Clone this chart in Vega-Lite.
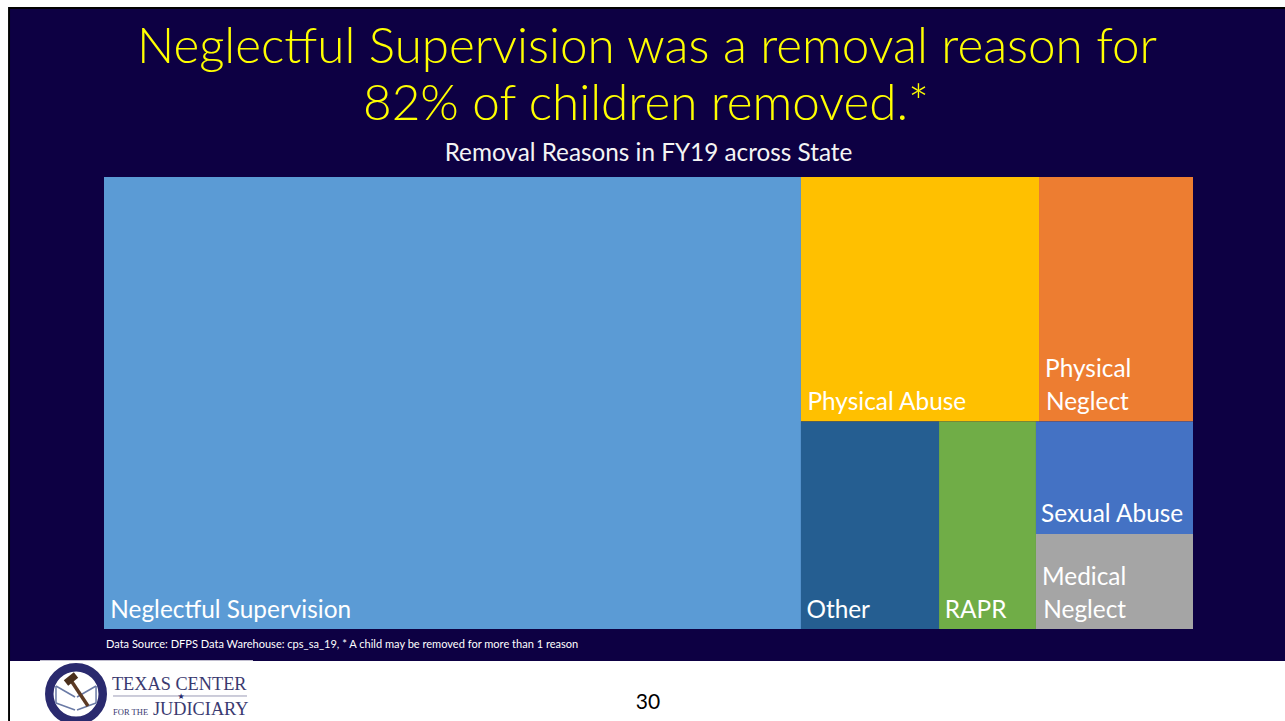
{
"$schema":"https://vega.github.io/schema/vega-lite/v6.json",
"width":1089,"height":452,
"autosize":{"type":"none"},
"padding":{"left":104,"top":177,"right":92,"bottom":92},
"background":"#fdfdfd",
"view":{"stroke":null},
"layer":[
{"data":{"values":[{"x":-8.81,"x2":108.45,"y":-37.6,"y2":107.3},{"x":-8.81,"x2":-8.63,"y":107.3,"y2":120.35}]},
"mark":{"type":"rect","color":"#000000"},
"encoding":{"x":{"field":"x","type":"quantitative","scale":{"domain":[0,100],"nice":false,"zero":false},"axis":null},"x2":{"field":"x2"},"y":{"field":"y","type":"quantitative","scale":{"domain":[0,100],"reverse":true,"nice":false,"zero":false},"axis":null},"y2":{"field":"y2"}}},
{"data":{"values":[{"x":-8.63,"x2":108.45,"y":-37.17,"y2":107.08}]},
"mark":{"type":"rect","color":"#0d0043"},
"encoding":{"x":{"field":"x","type":"quantitative","axis":null},"x2":{"field":"x2"},"y":{"field":"y","type":"quantitative","axis":null},"y2":{"field":"y2"}}},
{"data":{"values":[{"x":-8.63,"x2":108.45,"y":107.08,"y2":120.35},{"x":-5.88,"x2":13.68,"y":106.9,"y2":120.35}]},
"mark":{"type":"rect","color":"#ffffff"},
"encoding":{"x":{"field":"x","type":"quantitative","axis":null},"x2":{"field":"x2"},"y":{"field":"y","type":"quantitative","axis":null},"y2":{"field":"y2"}}},
{"data":{"values":[
{"t":"Neglectful Supervision was a removal reason for","x":49.86,"y":-25.3},
{"t":"82% of children removed.*","x":49.77,"y":-12.6}]},
"mark":{"type":"text","font":"Lato","fontWeight":300,"fontSize":49.4,"color":"#ffff00","align":"center","baseline":"alphabetic"},
"encoding":{"x":{"field":"x","type":"quantitative","axis":null},"y":{"field":"y","type":"quantitative","axis":null},"text":{"field":"t"}}},
{"data":{"values":[{"t":"Removal Reasons in FY19 across State","x":50,"y":-3.54}]},
"mark":{"type":"text","font":"Lato","fontSize":24.3,"color":"#f4f4f4","align":"center","baseline":"alphabetic"},
"encoding":{"x":{"field":"x","type":"quantitative","axis":null},"y":{"field":"y","type":"quantitative","axis":null},"text":{"field":"t"}}},
{"data":{"values":[
{"name":"Neglectful Supervision","x":0,"x2":64.0,"y":0,"y2":100},
{"name":"Physical Abuse","x":64.0,"x2":85.86,"y":0,"y2":54.09},
{"name":"Physical Neglect","x":85.86,"x2":100,"y":0,"y2":54.09},
{"name":"Other","x":64.0,"x2":76.68,"y":54.09,"y2":100},
{"name":"RAPR","x":76.68,"x2":85.58,"y":54.09,"y2":100},
{"name":"Sexual Abuse","x":85.58,"x2":100,"y":54.09,"y2":78.98},
{"name":"Medical Neglect","x":85.58,"x2":100,"y":78.98,"y2":100}]},
"mark":{"type":"rect"},
"encoding":{"x":{"field":"x","type":"quantitative","axis":null},"x2":{"field":"x2"},"y":{"field":"y","type":"quantitative","axis":null},"y2":{"field":"y2"},
"color":{"field":"name","type":"nominal","legend":null,"scale":{"domain":["Neglectful Supervision","Physical Abuse","Physical Neglect","Other","RAPR","Sexual Abuse","Medical Neglect"],"range":["#5b9bd5","#ffc000","#ed7d31","#255e91","#70ad47","#4472c4","#a5a5a5"]}}}},
{"data":{"values":[
{"t":"Neglectful Supervision","x":0.58,"y":97.5},
{"t":"Physical Abuse","x":64.6,"y":51.55},
{"t":"Physical","x":86.42,"y":44.3},
{"t":"Neglect","x":86.5,"y":51.55},
{"t":"Other","x":64.5,"y":97.5},
{"t":"RAPR","x":77.2,"y":97.5},
{"t":"Sexual Abuse","x":86.05,"y":76.33},
{"t":"Medical","x":86.14,"y":90.2},
{"t":"Neglect","x":86.25,"y":97.5}]},
"mark":{"type":"text","font":"Lato","fontSize":24.4,"color":"#ffffff","align":"left","baseline":"alphabetic"},
"encoding":{"x":{"field":"x","type":"quantitative","axis":null},"y":{"field":"y","type":"quantitative","axis":null},"text":{"field":"t"}}},
{"data":{"values":[{"t":"Data Source: DFPS Data Warehouse: cps_sa_19, * A child may be removed for more than 1 reason","x":0.18,"y":104.2}]},
"mark":{"type":"text","font":"Lato","fontSize":11.05,"color":"#ffffff","align":"left","baseline":"alphabetic"},
"encoding":{"x":{"field":"x","type":"quantitative","axis":null},"y":{"field":"y","type":"quantitative","axis":null},"text":{"field":"t"}}},
{"data":{"values":[{"t":"30","x":49.95,"y":117.7}]},
"mark":{"type":"text","font":"Lato","fontSize":21,"color":"#000000","align":"center","baseline":"alphabetic"},
"encoding":{"x":{"field":"x","type":"quantitative","axis":null},"y":{"field":"y","type":"quantitative","axis":null},"text":{"field":"t"}}},
{"data":{"values":[{"x":-2.57,"y":114.38}]},
"mark":{"type":"point","shape":"circle","filled":false,"fill":"#ffffff","fillOpacity":1,"stroke":"#2a2a6e","strokeOpacity":1,"strokeWidth":8.5,"size":2860},
"encoding":{"x":{"field":"x","type":"quantitative","axis":null},"y":{"field":"y","type":"quantitative","axis":null}}},
{"data":{"values":[
{"x":-4.41,"x2":-2.66,"y":112.61,"y2":115.04},
{"x":-4.41,"x2":-2.66,"y":116.37,"y2":117.92},
{"x":-0.73,"x2":-2.48,"y":112.61,"y2":115.04},
{"x":-0.73,"x2":-2.48,"y":116.37,"y2":117.92},
{"x":-4.41,"x2":-4.41,"y":112.61,"y2":116.37},
{"x":-0.73,"x2":-0.73,"y":112.61,"y2":116.37}]},
"mark":{"type":"rule","color":"#6a7aa5","strokeWidth":1.5},
"encoding":{"x":{"field":"x","type":"quantitative","axis":null},"x2":{"field":"x2"},"y":{"field":"y","type":"quantitative","axis":null},"y2":{"field":"y2"}}},
{"data":{"values":[{"x":-3.12,"x2":-1.47,"y":111.06,"y2":117.04}]},
"mark":{"type":"rule","color":"#5c3a24","strokeWidth":3.5},
"encoding":{"x":{"field":"x","type":"quantitative","axis":null},"x2":{"field":"x2"},"y":{"field":"y","type":"quantitative","axis":null},"y2":{"field":"y2"}}},
{"data":{"values":[{"x":-3.49,"x2":-2.57,"y":111.95,"y2":110.18}]},
"mark":{"type":"rule","color":"#4a2f1c","strokeWidth":7},
"encoding":{"x":{"field":"x","type":"quantitative","axis":null},"x2":{"field":"x2"},"y":{"field":"y","type":"quantitative","axis":null},"y2":{"field":"y2"}}},
{"data":{"values":[{"x":0.83,"x2":13.13,"y":114.82,"y2":114.82}]},
"mark":{"type":"rule","color":"#9a9ab5","strokeWidth":1},
"encoding":{"x":{"field":"x","type":"quantitative","axis":null},"x2":{"field":"x2"},"y":{"field":"y","type":"quantitative","axis":null},"y2":{"field":"y2"}}},
{"data":{"values":[{"t":"TEXAS CENTER","x":0.73,"y":113.6}]},
"mark":{"type":"text","font":"Liberation Serif","fontSize":18.3,"color":"#3a3a70","align":"left","baseline":"alphabetic"},
"encoding":{"x":{"field":"x","type":"quantitative","axis":null},"y":{"field":"y","type":"quantitative","axis":null},"text":{"field":"t"}}},
{"data":{"values":[{"t":"JUDICIARY","x":4.5,"y":119.1}]},
"mark":{"type":"text","font":"Liberation Serif","fontSize":18.3,"color":"#3a3a70","align":"left","baseline":"alphabetic"},
"encoding":{"x":{"field":"x","type":"quantitative","axis":null},"y":{"field":"y","type":"quantitative","axis":null},"text":{"field":"t"}}},
{"data":{"values":[{"t":"FOR THE","x":0.83,"y":119.1}]},
"mark":{"type":"text","font":"Liberation Serif","fontSize":8.5,"color":"#3a3a70","align":"left","baseline":"alphabetic"},
"encoding":{"x":{"field":"x","type":"quantitative","axis":null},"y":{"field":"y","type":"quantitative","axis":null},"text":{"field":"t"}}},
{"data":{"values":[{"t":"★","x":7.07,"y":115.1}]},
"mark":{"type":"text","font":"DejaVu Sans","fontSize":8,"color":"#2a2a6e","align":"center","baseline":"middle"},
"encoding":{"x":{"field":"x","type":"quantitative","axis":null},"y":{"field":"y","type":"quantitative","axis":null},"text":{"field":"t"}}}
]
}
